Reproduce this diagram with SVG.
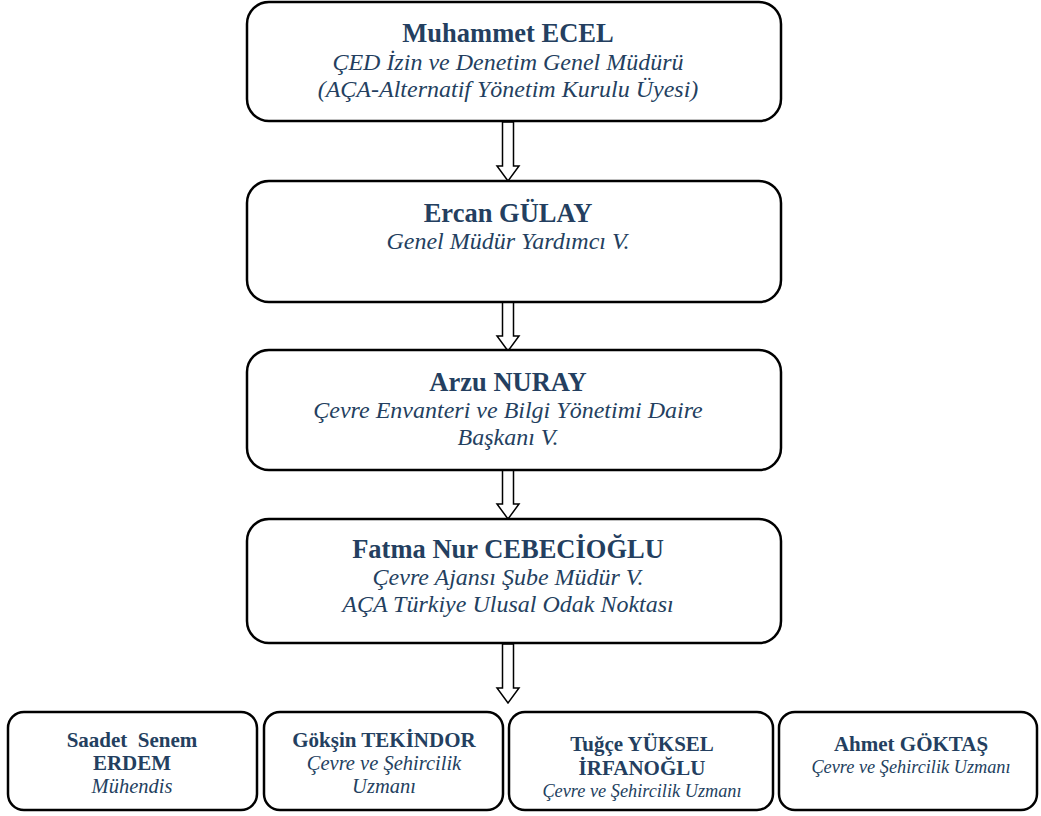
<svg xmlns="http://www.w3.org/2000/svg" width="1041" height="816" viewBox="0 0 1041 816">
<style>
.box{fill:#fff;stroke:#000;stroke-width:2.5}
.arr{fill:#fff;stroke:#000;stroke-width:1.5;stroke-linejoin:miter}
text{font-family:'Liberation Serif','Times New Roman',serif;fill:#243F60;text-anchor:middle}
.n{font-weight:bold;font-size:26.5px}
.r{font-style:italic;font-size:24px}
.sn{font-weight:bold;font-size:21px}
.sr{font-style:italic;font-size:20.5px}
.xr{font-style:italic;font-size:18.3px}
</style>
<rect width="1041" height="816" fill="#fff"/>
<g id="connectors">
<path class="arr" d="M502.5,122 H513.5 V166 H519 L508,181 L497,166 H502.5 Z"/>
<path class="arr" d="M502.5,292 H513.5 V336 H519 L508,351 L497,336 H502.5 Z"/>
<path class="arr" d="M502.5,460 H513.5 V504 H519 L508,519 L497,504 H502.5 Z"/>
<path class="arr" d="M502.5,644 H513.5 V688 H519 L508,703 L497,688 H502.5 Z"/>
</g>
<g id="n1">
<rect class="box" x="247" y="2" width="534" height="119" rx="22"/>
<text class="n" x="508" y="42">Muhammet ECEL</text>
<text class="r" x="508" y="70">ÇED İzin ve Denetim Genel Müdürü</text>
<text class="r" x="508" y="97">(AÇA-Alternatif Yönetim Kurulu Üyesi)</text>
</g>
<g id="n2">
<rect class="box" x="247" y="181" width="534" height="121" rx="22"/>
<text class="n" x="508" y="222">Ercan GÜLAY</text>
<text class="r" x="508" y="249">Genel Müdür Yardımcı V.</text>
</g>
<g id="n3">
<rect class="box" x="247" y="350" width="534" height="120" rx="22"/>
<text class="n" x="508" y="391">Arzu NURAY</text>
<text class="r" x="508" y="418">Çevre Envanteri ve Bilgi Yönetimi Daire</text>
<text class="r" x="508" y="445">Başkanı V.</text>
</g>
<g id="n4">
<rect class="box" x="247" y="519" width="534" height="124" rx="22"/>
<text class="n" x="508" y="558">Fatma Nur CEBECİOĞLU</text>
<text class="r" x="508" y="585">Çevre Ajansı Şube Müdür V.</text>
<text class="r" x="508" y="612">AÇA Türkiye Ulusal Odak Noktası</text>
</g>
<g id="n5">
<rect class="box" x="8" y="712" width="249" height="98" rx="16"/>
<text class="sn" x="132" y="747" xml:space="preserve">Saadet  Senem</text>
<text class="sn" x="132" y="770">ERDEM</text>
<text class="sr" x="132" y="793">Mühendis</text>
</g>
<g id="n6">
<rect class="box" x="264" y="712" width="239" height="98" rx="16"/>
<text class="sn" x="384" y="747">Gökşin TEKİNDOR</text>
<text class="sr" x="384" y="770">Çevre ve Şehircilik</text>
<text class="sr" x="384" y="793">Uzmanı</text>
</g>
<g id="n7">
<rect class="box" x="509" y="712" width="264" height="98" rx="16"/>
<text class="sn" x="642" y="751">Tuğçe YÜKSEL</text>
<text class="sn" x="642" y="775">İRFANOĞLU</text>
<text class="xr" x="642" y="797">Çevre ve Şehircilik Uzmanı</text>
</g>
<g id="n8">
<rect class="box" x="779" y="712" width="258" height="98" rx="16"/>
<text class="sn" x="911" y="751">Ahmet GÖKTAŞ</text>
<text class="xr" x="911" y="773">Çevre ve Şehircilik Uzmanı</text>
</g>
</svg>
